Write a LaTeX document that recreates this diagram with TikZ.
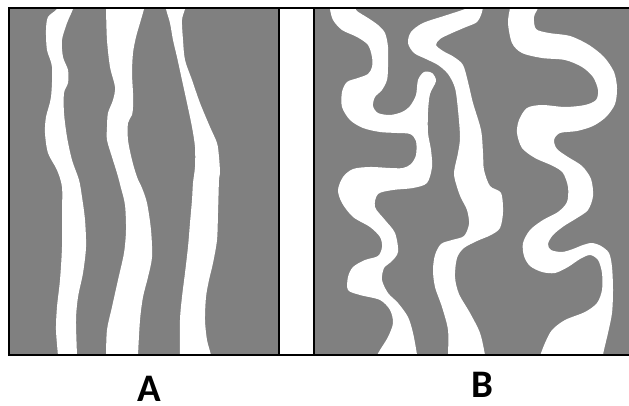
\documentclass[tikz,border=0pt]{standalone}
\usepackage{fontspec}
\setmainfont{Carlito}
\begin{document}
\begin{tikzpicture}[x=1pt,y=-1pt]
\definecolor{panelgray}{RGB}{128,128,128}
\tikzset{band/.style={fill=white,draw=none},
  frameline/.style={line width=2pt,black,line cap=rect},
  panellabel/.style={font=\fontsize{39}{39}\selectfont\bfseries,inner sep=0pt}}
\useasboundingbox (0,0) rectangle (629,406);
\fill[white] (0,0) rectangle (629,406);
% Panel A
\begin{scope}
\clip (8,8) rectangle (280,356);
\fill[panelgray] (8,8) rectangle (280,356);
\fill[band] plot[smooth cycle] coordinates {
 (57,2) (57,9) (48,17) (46,30) (47,50) (52,67) (51,97) (46,117) (45,133) (48,153) (57,170) (62,187)
 (62,213) (62,247) (60,280) (57,307) (56,330) (58,356) (58,364)
 (77,364) (77,356) (76,320) (78,297) (83,273) (86,247) (85,220) (82,197) (79,180) (72,160)
 (67,137) (64,113) (64,93) (68,83) (68,70) (63,57) (62,40) (67,23) (73,9) (74,2)};
\fill[band] plot[smooth cycle] coordinates {
 (106,2) (106,9) (107,40) (110,67) (115,87) (113,100) (108,113) (107,127) (107,140) (112,157) (117,173)
 (121,188) (125,205) (126,230) (124,253) (118,280) (112,307) (107,330) (106,356) (106,364)
 (138,364) (138,355) (140,320) (143,297) (148,277) (152,257) (151,230) (147,203) (142,188) (137,177)
 (132,160) (128,140) (128,123) (132,115) (133,107) (133,93) (132,73) (133,53) (136,37) (140,23) (144,9) (145,2)};
\fill[band] plot[smooth cycle] coordinates {
 (166,2) (166,9) (170,23) (173,40) (177,57) (182,80) (187,103) (192,127) (195,147) (195,167) (193,183)
 (192,200) (190,223) (188,247) (185,273) (182,297) (180,320) (180,356) (180,364)
 (212,364) (211,355) (207,340) (205,320) (206,297) (209,280) (213,263) (217,240) (218,213) (219,180)
 (220,173) (219,157) (217,143) (210,127) (200,103) (192,80) (185,60) (183,40) (182,20) (185,9) (186,2)};
\end{scope}
% Panel B
\begin{scope}
\clip (314,8) rectangle (629,356);
\fill[panelgray] (314,8) rectangle (629,356);
\fill[band] plot[smooth cycle] coordinates {
 (330,2) (330,9) (333,20) (342,30) (357,37) (368,45) (372,57) (372,67) (368,74)
 (358,78) (347,82) (342,92) (342,107) (350,120) (363,128) (380,132) (397,133) (410,134)
 (416,141) (416,155) (411,164) (403,168) (390,168) (370,167) (353,169)
 (343,177) (338,190) (342,203) (353,217) (370,227) (380,237) (382,247) (378,256) (365,260)
 (353,267) (348,277) (348,290) (360,295) (380,300) (390,310) (393,323) (388,337) (380,350) (377,356) (377,364)
 (417,364) (417,355) (413,333) (408,317) (398,303) (388,293) (382,280) (384,268) (391,262) (398,252)
 (395,233) (385,220) (375,207) (378,194) (393,190) (413,188) (427,183) (432,167) (431,150) (428,133)
 (428,112) (430,94) (436,81) (432,73) (424,72) (418,80) (416,95) (410,106) (402,112) (390,115) (378,113)
 (373,106) (375,97) (382,90) (387,80) (388,67) (388,47) (385,33) (378,25) (368,18) (356,10) (356,2)};
\fill[band] plot[smooth cycle] coordinates {
 (467,2) (467,8) (447,15) (423,23) (411,32) (408,43) (414,53) (426,59) (438,65) (448,74) (455,88)
 (458,110) (460,137) (458,153) (454,173) (457,187) (461,198) (467,210) (469,224) (464,236) (452,240)
 (441,244) (435,255) (433,270) (435,287) (442,307) (448,330) (448,356) (448,364)
 (486,364) (485,355) (480,333) (470,313) (459,294) (455,277) (457,258) (464,248) (477,241) (491,235)
 (500,228) (503,212) (501,193) (490,186) (484,170) (483,153) (481,130) (473,103) (468,82) (463,65)
 (454,57) (443,51) (436,45) (440,39) (452,33) (466,27) (477,22) (482,12) (482,2)};
\fill[band] plot[smooth cycle] coordinates {
 (511,2) (510,8) (508,23) (512,43) (522,53) (542,58) (565,60) (582,67) (593,77) (598,90) (596,100)
 (585,105) (565,107) (542,105) (527,108) (519,120) (517,133) (522,148) (535,158) (553,166) (563,173)
 (568,187) (567,202) (558,212) (543,220) (530,230) (523,243) (524,256) (530,266) (542,272) (555,273)
 (568,267) (580,259) (590,255) (598,260) (602,273) (602,290) (597,303) (585,312) (565,320) (552,330)
 (545,343) (540,356) (538,364)
 (604,364) (603,355) (608,333) (612,313) (613,290) (612,267) (609,253) (601,246) (592,243) (583,245)
 (573,249) (562,252) (551,250) (548,244) (553,235) (564,226) (577,218) (588,210) (593,196) (591,179)
 (582,166) (568,157) (557,149) (554,140) (560,133) (577,131) (593,126) (606,117) (615,104) (617,88)
 (614,72) (604,57) (589,45) (570,36) (549,33) (536,29) (534,17) (538,8) (538,2)};
\end{scope}
% frame
\draw[frameline] (9,8) -- (629,8);
\draw[frameline] (9,355) -- (629,355);
\draw[frameline] (9,8) -- (9,355);
\draw[frameline] (279,8) -- (279,355);
\draw[frameline] (314,8) -- (314,355);
% labels
\node[panellabel] (labelA) at (149,389) {A};
\node[panellabel] (labelB) at (482,385) {B};
\end{tikzpicture}
\end{document}
